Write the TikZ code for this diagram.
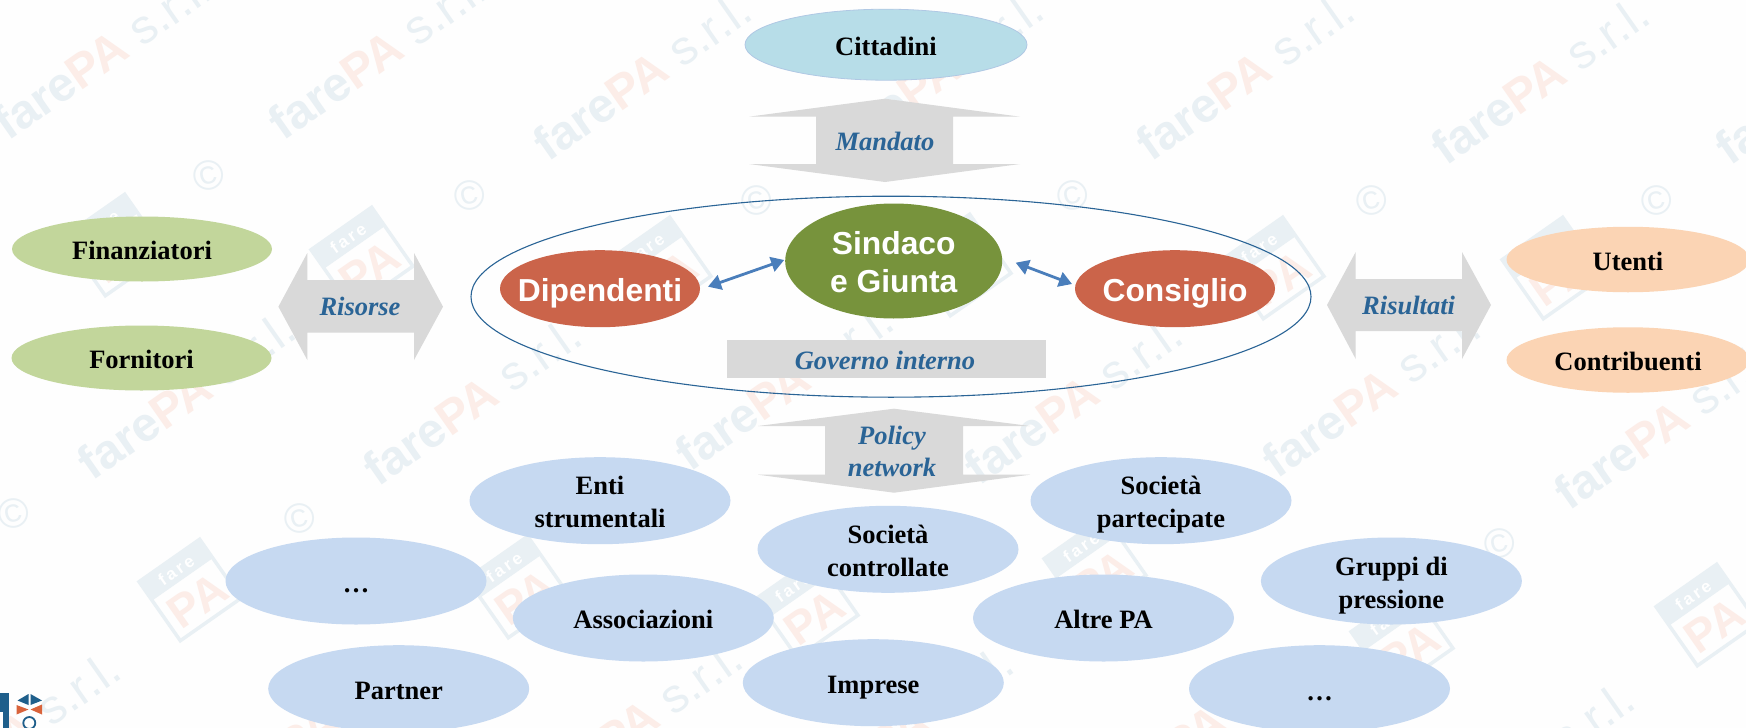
\documentclass[tikz,border=0pt]{standalone}
\usepackage{fontspec}
\usetikzlibrary{shapes.geometric,arrows.meta}
\setmainfont{Liberation Serif}
\newfontfamily\arialf{Liberation Sans}
\definecolor{bgc}{HTML}{FEFEFE}
\definecolor{wmblue}{HTML}{E9F0F4}
\definecolor{wmred}{HTML}{FCEDE8}
\definecolor{greenf}{HTML}{C2D69B}
\definecolor{orangef}{HTML}{FBD4B4}
\definecolor{bluef}{HTML}{C6D9F1}
\definecolor{cyanf}{HTML}{B7DDE8}
\definecolor{cyanl}{HTML}{B0C8E4}
\definecolor{redf}{HTML}{CB644A}
\definecolor{sindf}{HTML}{77933C}
\definecolor{greyf}{HTML}{D9D9D9}
\definecolor{labelc}{HTML}{2A6496}
\definecolor{ringc}{HTML}{2A6496}
\definecolor{arrowc}{HTML}{4A7EBB}
\definecolor{logob}{HTML}{1F5F8B}
\definecolor{logor}{HTML}{D9633B}
% zero-size centred box: the text never widens the ellipse that holds it
\newlength\dropk
\newcommand\ctrbox[1]{\vbox to 0pt{\kern\dropk\vss\hbox to 0pt{\hss\setlength\tabcolsep{0pt}\begin{tabular}{c}#1\end{tabular}\hss}\vss}}
\tikzset{
  x=1pt,y=-1pt,
  oval/.style={ellipse,inner sep=0pt,outer sep=0pt,minimum width=261pt,minimum height=87pt,
    font=\fontsize{26.5}{33}\selectfont\bfseries\setlength\dropk{8pt},text=black},
  greenoval/.style={oval,fill=greenf,minimum width=260pt,minimum height=65pt},
  orangeoval/.style={oval,fill=orangef,minimum width=243pt,minimum height=65.5pt},
  blueoval/.style={oval,fill=bluef},
  cyanoval/.style={oval,fill=cyanf,draw=cyanl,line width=.8pt,minimum width=282pt,minimum height=71pt},
  bodyoval/.style={oval,font=\arialf\fontsize{31.8}{38}\selectfont\bfseries\setlength\dropk{10pt},text=white,fill=redf,
    minimum width=200pt,minimum height=77pt},
  ring/.style={draw=ringc,line width=1.1pt},
  blockarrow/.style={fill=greyf},
  blocklabel/.style={inner sep=0pt,outer sep=0pt,font=\fontsize{26.5}{32}\selectfont\bfseries\itshape\setlength\dropk{4pt},text=labelc},
  linkarrow/.style={draw=arrowc,line width=2.8pt,{Triangle[length=13pt,width=15pt]}-{Triangle[length=13pt,width=15pt]}},
  wmtext/.style={rotate=35,anchor=base west,inner sep=0pt,font=\arialf\fontsize{48}{48}\selectfont,text=wmblue},
  wmcopy/.style={rotate=15,inner sep=0pt,font=\arialf\fontsize{42}{42}\selectfont,text=wmblue},
  wmbadge/.pic={
    \draw[wmblue,line width=3.5pt] (-37,-36) rectangle (37,36);
    \fill[wmblue] (-37,-36) rectangle (37,-13);
    \node[inner sep=0pt,transform shape,text=white,font=\arialf\fontsize{17}{17}\selectfont\bfseries] (-f) at (0,-24) {f\,a\,r\,e};
    \node[inner sep=0pt,transform shape,text=wmred,font=\arialf\fontsize{46}{46}\selectfont\bfseries] (-p) at (0,13) {PA};
  },
}
\begin{document}
\begin{tikzpicture}
\useasboundingbox (0,0) rectangle (1746,728);
\fill[bgc] (0,0) rectangle (1746,728);
\begin{scope}
\clip (0,0) rectangle (1746,728);
% watermark
\foreach \wx/\wy [count=\wi] in {8/142,283/142,548/163,840/162,1151/163,1446/167,1730/167,
    92/482,378/488,690/473,979/487,1277/480,1569/512,
    -83/822,220/816,539/811,810/816,1107/816,1431/852}
  {\node[wmtext] (wm\wi) at (\wx,\wy) {\textbf{fare}\textcolor{wmred}{\textbf{PA}} s.r.l.};}
\foreach \cx/\cy [count=\ci] in {209/175,470/195,757/200,1073/195,1372/200,1657/200,14/513,300/518,1500/543}
  {\node[wmcopy] (co\ci) at (\cx,\cy) {©};}
\foreach \bx/\by [count=\bi] in {115/245,362/258,660/268,960/265,1273/268,1553/268,
    190/590,518/587,807/607,1095/567,1402/640,1707/615}
  {\pic (ba\bi) [rotate=35] at (\bx,\by) {wmbadge};}
% logo, cut by the corner of the page
\fill[logob] (0,693) rectangle (9,728);
\fill[white] (0,712) rectangle (3,728);
\fill[logob] (17.5,700.5) -- (28.5,694) -- (28.5,705) -- cycle;
\fill[logob] (30.5,694) -- (42,700.5) -- (30.5,705) -- cycle;
\fill[logor] (16.5,705) -- (28.5,709.5) -- (16.5,714.5) -- cycle;
\fill[logor] (42,704.5) -- (30.5,709.5) -- (42,714.5) -- cycle;
\draw[logob,line width=1.8pt] (29.3,723) circle (6pt);
\end{scope}
% block arrows
\fill[blockarrow] (885,98.7) -- (1020,116.7) -- (953,116.7) -- (953,164) -- (1020,164) -- (885,182)
  -- (749,164) -- (816,164) -- (816,116.7) -- (749,116.7) -- cycle;
\fill[blockarrow] (278.4,306.7) -- (307.3,253) -- (307.3,280) -- (414,280) -- (414,253) -- (443,306.7)
  -- (414,360) -- (414,332.7) -- (307.3,332.7) -- (307.3,360) -- cycle;
\fill[blockarrow] (1327,305) -- (1355.7,252) -- (1355.7,279) -- (1462,279) -- (1462,252) -- (1491,305)
  -- (1462,359) -- (1462,331) -- (1355.7,331) -- (1355.7,359) -- cycle;
\fill[blockarrow] (894,408.7) -- (1030,426) -- (963,426) -- (963,474.7) -- (1030,474.7) -- (894,492.7)
  -- (758,474.7) -- (825,474.7) -- (825,426) -- (758,426) -- cycle;
\fill[blockarrow] (727,340) rectangle (1045.6,378);
% outer ring
\node[ellipse,ring,inner sep=0pt,outer sep=0pt,minimum width=840pt,minimum height=201pt] (ringe) at (891,296.7) {};
% labels on blocks
\node[blocklabel] (mand) at (885,142) {\ctrbox{Mandato}};
\node[blocklabel] (riso) at (360,307) {\ctrbox{Risorse}};
\node[blocklabel] (risu) at (1408.6,306) {\ctrbox{Risultati}};
\node[blocklabel] (gove) at (885,361) {\ctrbox{Governo interno}};
\node[blocklabel] (poli) at (892,452) {\ctrbox{Policy\\network}};
% outer ovals
\node[cyanoval] (citt) at (886,44.7) {\ctrbox{Cittadini}};
\node[greenoval] (fina) at (142,249) {\ctrbox{Finanziatori}};
\node[greenoval] (forn) at (141.5,358) {\ctrbox{Fornitori}};
\node[orangeoval] (uten) at (1628,259.5) {\ctrbox{Utenti}};
\node[orangeoval] (cont) at (1628,360) {\ctrbox{Contribuenti}};
% inner ovals
\node[bodyoval] (dipe) at (600,288.7) {\ctrbox{Dipendenti}};
\node[bodyoval] (cons) at (1175,288.7) {\ctrbox{Consiglio}};
\node[bodyoval,fill=sindf,minimum width=217pt,minimum height=115pt] (sind) at (893.7,261) {\ctrbox{Sindaco\\e Giunta}};
\draw[linkarrow] ([shift={(8,-2)}]dipe.east) -- ([shift={(-1,-1)}]sind.west);
\draw[linkarrow] ([shift={(13.5,1.7)}]sind.east) -- ([shift={(-3,-4.7)}]cons.west);
% network ovals
\node[blueoval] (enti) at (600,500.7) {\ctrbox{Enti\\strumentali}};
\node[blueoval] (dotl) at (356,581) {\ctrbox{\raisebox{-1pt}{…}}};
\node[blueoval] (asso) at (643.3,618) {\ctrbox{Associazioni}};
\node[blueoval] (part) at (398.7,688.7) {\ctrbox{Partner}};
\node[blueoval] (soco) at (888,549.3) {\ctrbox{Società\\controllate}};
\node[blueoval] (impr) at (873.3,682.7) {\ctrbox{Imprese}};
\node[blueoval] (sopa) at (1161,500.7) {\ctrbox{Società\\partecipate}};
\node[blueoval] (grup) at (1391.4,581) {\ctrbox{Gruppi di\\pressione}};
\node[blueoval] (altr) at (1103.5,618) {\ctrbox{Altre PA}};
\node[blueoval] (dotr) at (1319.5,688.7) {\ctrbox{\raisebox{-1pt}{…}}};
\end{tikzpicture}
\end{document}
